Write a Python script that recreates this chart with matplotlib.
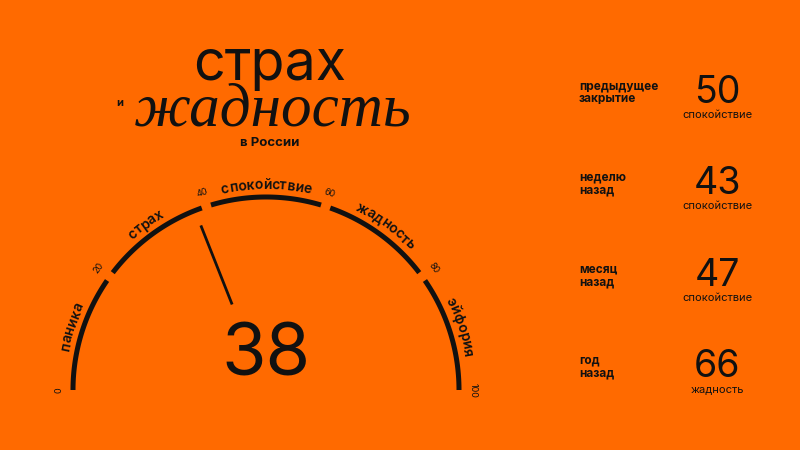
import numpy as np
import matplotlib
matplotlib.use("Agg")
from matplotlib import pyplot as plt
from matplotlib.font_manager import FontProperties

# --- data ---
value = 38
bounds = [0, 20, 40, 60, 80, 100]
zones = ["паника", "страх", "спокойствие", "жадность", "эйфория"]
hist_labels = ["предыдущее\nзакрытие", "неделю\nназад", "месяц\nназад", "год\nназад"]
hist_values = [50, 43, 47, 66]
hist_zones = ["спокойствие", "спокойствие", "спокойствие", "жадность"]

BG = "#FF6A00"
INK = "#111111"
SANS = ["Inter", "DejaVu Sans"]

fig = plt.figure(figsize=(8, 4.5), dpi=100, facecolor=BG)
ax = fig.add_axes([0, 0, 1, 1])
ax.set_xlim(0, 800)
ax.set_ylim(450, 0)
ax.axis("off")
ax.set_facecolor(BG)
renderer = fig.canvas.get_renderer()

cx, cy, R = 266, 390, 193


def ang(v):
    return np.radians(180 - v * 1.8)


def pt(v, r):
    a = ang(v)
    return cx + r * np.cos(a), cy - r * np.sin(a)


def text_w(s, fp):
    # width in px of a string, measured with "|" guards so spaces count
    w1 = renderer.get_text_width_height_descent("|" + s + "|", fp, ismath=False)[0]
    w0 = renderer.get_text_width_height_descent("||", fp, ismath=False)[0]
    return w1 - w0


def curved(text, v_mid, r, size, weight="semibold"):
    # put each letter along the arc, centred at v_mid
    fp = FontProperties(family="Inter", weight=weight, size=size)
    total = text_w(text, fp)
    a0 = ang(v_mid) + (total / 2) / r
    for i, ch in enumerate(text):
        s = (text_w(text[:i], fp) + text_w(text[:i + 1], fp)) / 2
        a = a0 - s / r
        x, y = cx + r * np.cos(a), cy - r * np.sin(a)
        ax.text(x, y, ch, fontproperties=fp, color=INK,
                rotation=np.degrees(a) - 90, rotation_mode="anchor",
                ha="center", va="baseline")


# arc segments with small gaps
gap = 0.8
for i in range(len(bounds) - 1):
    lo = bounds[i] + (gap if i > 0 else 0)
    hi = bounds[i + 1] - (gap if i < len(bounds) - 2 else 0)
    t = np.linspace(lo, hi, 80)
    xs, ys = pt(t, R)
    ax.plot(xs, ys, color=INK, lw=3.6, solid_capstyle="butt")

# zone names and tick numbers
for i, name in enumerate(zones):
    curved(name, (bounds[i] + bounds[i + 1]) / 2, 201, 10)
for b in bounds:
    x, y = pt(b, 207)
    ax.text(x, y, str(b), fontsize=6.5, family=SANS, color=INK,
            rotation=np.degrees(ang(b)) - 90, ha="center", va="center",
            rotation_mode="anchor")

# needle
x0, y0 = pt(value, 92)
x1, y1 = pt(value, 177)
ax.plot([x0, x1], [y0, y1], color=INK, lw=2.0, solid_capstyle="butt")

ax.text(266, 357, str(value), fontsize=52, family=SANS, fontweight="normal",
        color=INK, ha="center", va="center")

# title
ax.text(270, 80, "страх", fontsize=40, family=SANS, color=INK, ha="center",
        va="baseline")
ax.text(273, 125, "жадность", fontsize=44, family=["Liberation Serif", "DejaVu Serif"],
        style="italic", color=INK, ha="center", va="baseline")
ax.text(120, 106, "и", fontsize=8, family=SANS, fontweight="bold", color=INK,
        ha="center", va="baseline")
ax.text(270, 146, "в России", fontsize=9.5, family=SANS, fontweight="bold",
        color=INK, ha="center", va="baseline")

# history column
row_y = [93, 184, 276, 367]
for yy, lab, v, z in zip(row_y, hist_labels, hist_values, hist_zones):
    ax.text(579, yy, lab, fontsize=8.5, family=SANS, fontweight="bold", color=INK,
            ha="left", va="center", linespacing=1.05)
    ax.text(717, yy, str(v), fontsize=27, family=SANS, fontweight="normal", color=INK,
            ha="center", va="center")
    ax.text(717, yy + 22, z, fontsize=8, family=SANS, color=INK,
            ha="center", va="center")

fig.savefig("out.png", dpi=100, facecolor=BG)
